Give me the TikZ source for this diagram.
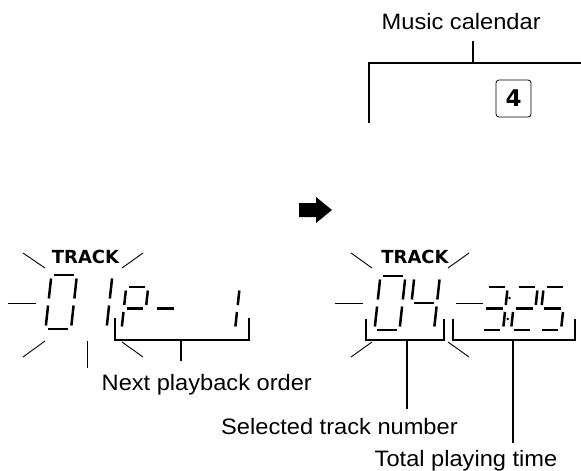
\documentclass[tikz,border=0pt]{standalone}
\usepackage{fontspec}
\setmainfont{Liberation Sans}
\newfontfamily\labfont{Liberation Sans}[FakeStretch=1.06]
\newfontfamily\trkfont{DejaVu Sans}
\def\sgk{0.11}\def\sgap{2.8}\def\vgap{3.5}
\newcommand\sdig[5]{\def\dbx{#1}\def\dby{#2}\def\sW{#3}\def\sH{#4}%
  \foreach \s in {#5}{\csname sg\s\endcsname}}
\def\sga{\draw[seg] ({\dbx+\sgk*\sH+\sgap},{\dby-\sH}) -- ({\dbx+\sgk*\sH+\sW-\sgap},{\dby-\sH});}
\def\sgg{\draw[seg] ({\dbx+\sgk*\sH/2+\sgap},{\dby-\sH/2}) -- ({\dbx+\sgk*\sH/2+\sW-\sgap},{\dby-\sH/2});}
\def\sgd{\draw[seg] ({\dbx+\sgap},{\dby}) -- ({\dbx+\sW-\sgap},{\dby});}
\def\sgf{\draw[seg] ({\dbx+\sgk*(\sH-\vgap)},{\dby-\sH+\vgap}) -- ({\dbx+\sgk*(\sH/2+\vgap)},{\dby-\sH/2-\vgap});}
\def\sgb{\draw[seg] ({\dbx+\sW+\sgk*(\sH-\vgap)},{\dby-\sH+\vgap}) -- ({\dbx+\sW+\sgk*(\sH/2+\vgap)},{\dby-\sH/2-\vgap});}
\def\sge{\draw[seg] ({\dbx+\sgk*(\sH/2-\vgap)},{\dby-\sH/2+\vgap}) -- ({\dbx+\sgk*\vgap},{\dby-\vgap});}
\def\sgc{\draw[seg] ({\dbx+\sW+\sgk*(\sH/2-\vgap)},{\dby-\sH/2+\vgap}) -- ({\dbx+\sW+\sgk*\vgap},{\dby-\vgap});}
\begin{document}
\begin{tikzpicture}[x=1pt,y=-1pt,
  seg/.style={line width=2.5pt,line cap=butt},
  ray/.style={line width=0.9pt},
  brk/.style={line width=2.4pt,line join=miter},
  lab/.style={font=\labfont\fontsize{22.3}{26}\selectfont,inner sep=0pt},
  trk/.style={font=\trkfont\bfseries\fontsize{18}{18}\selectfont,inner sep=0pt}]
\useasboundingbox (0,0) rectangle (581,471);

% ---------- top: music calendar ----------
\node[lab,anchor=base west] (mc) at (381.5,29) {Music calendar};
\coordinate (mcs) at (473,41);
\coordinate (mcb) at (473,63);
\coordinate (mcl) at (369,123);
\coordinate (mcr) at (581,63);
\draw[brk] (mcs) -- (mcb);
\draw[brk] (mcl) -- (369,63) -- (mcr);
\node[draw,rounded corners=3pt,line width=0.8pt,minimum width=35pt,minimum height=37pt,inner sep=0pt,
  font=\trkfont\bfseries\fontsize{23}{23}\selectfont] (cal4) at (513.5,98.5) {4};

% ---------- arrow ----------
\fill (299,203) -- (316,203) -- (316,197) -- (332,210) -- (316,223) -- (316,217) -- (299,217) -- cycle;

% ---------- left display ----------
\node[trk] (trkL) at (85.5,256.5) {TRACK};
\draw[ray] (23,253) -- (45,268);
\draw[ray] (122,268) -- (143,253);
\draw[ray] (8,303) -- (36,303);
\draw[ray] (23,357) -- (45,341);
\draw[ray] (87,341) -- (87,368);
\draw[ray] (122,342) -- (143,357);
\sdig{45.5}{329}{25.5}{54}{a,b,c,d,e,f}
\sdig{81}{329}{25.5}{54}{b,c}
\sdig{121.5}{330}{22}{43}{a,b,f,g,e}
\sdig{152}{330}{22}{43}{g}
\sdig{213}{330}{22}{43}{b,c}
\coordinate (bL1) at (115,318);
\coordinate (bL2) at (249,318);
\coordinate (bLs) at (181,340);
\coordinate (bLe) at (181,361);
\draw[brk] (bL1) -- (115,340) -- (249,340) -- (bL2);
\draw[brk] (bLs) -- (bLe);
\node[lab,anchor=base west] (nxt) at (101.5,390) {Next playback order};

% ---------- right display ----------
\node[trk] (trkR) at (415,256.5) {TRACK};
\draw[ray] (351,253) -- (372,268);
\draw[ray] (448,268) -- (469,253);
\draw[ray] (335,303) -- (363,303);
\draw[ray] (351,357) -- (372,342);
\draw[ray] (448,342) -- (469,357);
\draw[ray] (456,303) -- (483,303);
\sdig{374.5}{330}{25}{54}{a,b,c,d,e,f}
\sdig{408.5}{330}{25.5}{54}{f,g,b,c}
\sdig{481}{330}{22}{43}{a,b,g,c,d}
\fill (509.5,298) circle (1.4pt);
\fill (507.8,319) circle (1.4pt);
\sdig{511}{330}{22}{43}{a,b,g,e,d}
\sdig{539}{330}{22}{43}{a,f,g,c,d}
\coordinate (bR1) at (366,319);
\coordinate (bR2) at (444,319);
\coordinate (bRs) at (407,340);
\coordinate (bRe) at (407,409);
\draw[brk] (bR1) -- (366,340) -- (444,340) -- (bR2);
\draw[brk] (bRs) -- (bRe);
\node[lab,anchor=base west] (sel) at (221,434) {Selected track number};
\coordinate (bT1) at (453,319);
\coordinate (bT2) at (575,319);
\coordinate (bTs) at (513,340);
\coordinate (bTe) at (513,443);
\draw[brk] (bT1) -- (453,340) -- (575,340) -- (bT2);
\draw[brk] (bTs) -- (bTe);
\node[lab,anchor=base west] (tot) at (374.5,466) {Total playing time};
\end{tikzpicture}
\end{document}
